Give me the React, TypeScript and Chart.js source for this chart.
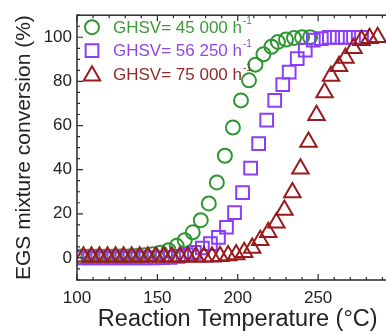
import React, { useEffect, useRef } from "react";
import { Chart, registerables } from "chart.js";

Chart.register(...registerables);

const FONT = "'Liberation Sans', Arial, sans-serif";

// Series data (temperature °C, conversion %)
const circleX = [102, 107, 112, 117, 122, 127, 132, 137, 142, 147, 152, 157, 162, 167, 172, 177, 182, 187, 192, 197, 202, 207, 211, 216, 221, 225, 230, 235, 240, 245];
const circleY = [0.5, 0.5, 0.5, 0.5, 0.5, 0.6, 0.7, 0.9, 1.2, 1.7, 2.4, 3.5, 5.5, 8, 11.6, 17.1, 24.7, 34.2, 46.3, 59.1, 71.4, 80.5, 87.6, 92.3, 95.7, 97.9, 99, 99.7, 100, 100];

const squareX = [103, 108, 113, 118, 123, 128, 133, 138, 143, 148, 153, 158, 163, 168, 173, 178, 183, 188, 193, 198, 203, 208, 213, 218, 223, 228, 232, 237, 242, 247, 252, 257, 262, 267, 272, 277];
const squareY = [0, 0, 0, 0, 0, 0, 0, 0, 0, 0, 0.1, 0.3, 0.7, 1.5, 2.5, 4.5, 6.5, 9.3, 13.9, 20.5, 29.6, 40.7, 51.8, 62.5, 71.4, 78.5, 84.2, 90.3, 94.2, 98.7, 99.4, 100, 100, 100, 100, 100];

const triangleX = [104, 109, 114, 119, 124, 129, 134, 139, 144, 149, 154, 159, 164, 169, 174, 179, 184, 189, 194, 199, 204, 209, 214, 219, 224, 229, 234, 239, 244, 249, 254, 258, 263, 267, 272, 277, 282, 287];
const triangleY = [0.5, 0.5, 0.5, 0.5, 0.5, 0.5, 0.5, 0.5, 0.5, 0.5, 0.5, 0.5, 0.5, 0.5, 0.5, 0.5, 0.5, 0.8, 1.1, 1.6, 2.6, 4.5, 8, 11.6, 16, 21.7, 29.6, 40.4, 52.5, 64.7, 75, 82.4, 86.9, 90.6, 95, 98.7, 99.5, 100];

const seriesLabels = ["GHSV= 45 000 h", "GHSV= 56 250 h", "GHSV= 75 000 h"];
const labelSup = "-1";

const xTicks = [100, 150, 200, 250];
const yTicks = [0, 20, 40, 60, 80, 100];

const X_MIN = 100;
const X_MAX = 300;
const Y_MIN = -10;
const Y_MAX = 110;

const markerColors = ["#2f9632", "#8a3dfa", "#9a1b1b"];
const textColors = ["#3a9a3a", "#9346e8", "#8e2b2b"];

const toPoints = (xs: number[], ys: number[]) => xs.map((x, i) => ({ x, y: ys[i] }));

function drawMarker(ctx: CanvasRenderingContext2D, style: string, x: number, y: number, r: number) {
  ctx.beginPath();
  if (style === "circle") {
    ctx.arc(x, y, r, 0, Math.PI * 2);
  } else if (style === "rect") {
    const s = r * Math.SQRT1_2;
    ctx.rect(x - s, y - s, 2 * s, 2 * s);
  } else {
    for (let k = 0; k < 3; k++) {
      const ang = -Math.PI / 2 + (k * 2 * Math.PI) / 3;
      const px = x + Math.cos(ang) * r;
      const py = y + Math.sin(ang) * r;
      if (k === 0) ctx.moveTo(px, py);
      else ctx.lineTo(px, py);
    }
    ctx.closePath();
  }
  ctx.stroke();
}

const framePlugin = {
  id: "frame",
  afterDatasetsDraw(chart: any) {
    const { ctx, chartArea: a, scales } = chart;
    const xs = scales.x;
    const ys = scales.y;
    ctx.save();
    ctx.strokeStyle = "#2a2a2a";
    ctx.lineWidth = 1.5;
    ctx.strokeRect(a.left, a.top, a.right - a.left, a.bottom - a.top);
    ctx.lineWidth = 1.2;
    ctx.beginPath();
    for (let v = X_MIN; v <= X_MAX; v += 10) {
      const px = xs.getPixelForValue(v);
      const len = v % 50 === 0 ? 6 : 3;
      ctx.moveTo(px, a.bottom);
      ctx.lineTo(px, a.bottom - len);
      ctx.moveTo(px, a.top);
      ctx.lineTo(px, a.top + len);
    }
    for (let v = Y_MIN; v <= Y_MAX; v += 5) {
      const py = ys.getPixelForValue(v);
      const len = v % 20 === 0 ? 6 : 3;
      ctx.moveTo(a.left, py);
      ctx.lineTo(a.left + len, py);
      ctx.moveTo(a.right, py);
      ctx.lineTo(a.right - len, py);
    }
    ctx.stroke();
    ctx.restore();
  },
};

const legendPlugin = {
  id: "insideLegend",
  afterDraw(chart: any) {
    const { ctx, chartArea: a } = chart;
    const styles = ["circle", "rect", "triangle"];
    const radii = [7, 9, 9.5];
    ctx.save();
    chart.data.datasets.forEach((ds: any, i: number) => {
      const cy = a.top + 12 + i * 23.5;
      const mx = a.left + 15;
      ctx.strokeStyle = markerColors[i];
      ctx.lineWidth = 2;
      drawMarker(ctx, styles[i], mx, cy + (i === 2 ? 1.5 : 0), radii[i]);
      ctx.fillStyle = textColors[i];
      ctx.textBaseline = "middle";
      ctx.textAlign = "left";
      ctx.font = `17px ${FONT}`;
      const tx = a.left + 36;
      ctx.fillText(ds.label, tx, cy + 1);
      const w = ctx.measureText(ds.label).width;
      ctx.font = `10px ${FONT}`;
      ctx.fillText(labelSup, tx + w + 1, cy - 6);
    });
    ctx.restore();
  },
};

export default function App() {
  const ref = useRef<HTMLCanvasElement | null>(null);

  useEffect(() => {
    if (!ref.current) return;
    const chart = new Chart(ref.current, {
      type: "scatter",
      data: {
        datasets: [
          {
            label: seriesLabels[0],
            data: toPoints(circleX, circleY),
            pointStyle: "circle",
            pointRadius: 7,
            borderColor: markerColors[0],
            backgroundColor: "rgba(0,0,0,0)",
            borderWidth: 2,
            order: 3,
          },
          {
            label: seriesLabels[1],
            data: toPoints(squareX, squareY),
            pointStyle: "rect",
            pointRadius: 9,
            borderColor: markerColors[1],
            backgroundColor: "rgba(0,0,0,0)",
            borderWidth: 2,
            order: 2,
          },
          {
            label: seriesLabels[2],
            data: toPoints(triangleX, triangleY),
            pointStyle: "triangle",
            pointRadius: 9.5,
            borderColor: markerColors[2],
            backgroundColor: "rgba(0,0,0,0)",
            borderWidth: 2,
            order: 1,
          },
        ],
      },
      options: {
        animation: false,
        responsive: false,
        maintainAspectRatio: false,
        events: [],
        layout: { padding: { top: 11, left: 0, right: 0, bottom: 0 } },
        plugins: {
          legend: { display: false },
          tooltip: { enabled: false },
        },
        scales: {
          x: {
            type: "linear",
            min: X_MIN,
            max: X_MAX,
            afterBuildTicks: (s: any) => {
              s.ticks = xTicks.map((v) => ({ value: v }));
            },
            afterFit: (s: any) => {
              s.height = 54;
            },
            grid: { display: false, drawTicks: false },
            border: { display: false },
            ticks: {
              padding: 8,
              color: "#222",
              font: { family: FONT, size: 17 },
              maxRotation: 0,
              autoSkip: false,
            },
            title: {
              display: true,
              text: "Reaction Temperature (°C)",
              color: "#222",
              font: { family: FONT, size: 23.5, lineHeight: 1.2 },
              padding: { top: 0, bottom: 0 },
            },
          },
          y: {
            type: "linear",
            min: Y_MIN,
            max: Y_MAX,
            afterBuildTicks: (s: any) => {
              s.ticks = yTicks.map((v) => ({ value: v }));
            },
            afterFit: (s: any) => {
              s.width = 77;
            },
            grid: { display: false, drawTicks: false },
            border: { display: false },
            ticks: {
              padding: 5,
              color: "#222",
              font: { family: FONT, size: 17 },
              autoSkip: false,
            },
            title: {
              display: true,
              text: "EGS mixture conversion (%)",
              color: "#222",
              font: { family: FONT, size: 21, lineHeight: 1.2 },
              padding: { top: 12, bottom: 0 },
            },
          },
        },
      },
      plugins: [framePlugin, legendPlugin],
    });
    return () => chart.destroy();
  }, []);

  return (
    <div
      style={{
        position: "fixed",
        left: 0,
        top: 0,
        width: 386,
        height: 334,
        overflow: "hidden",
        background: "#fff",
      }}
    >
      <canvas ref={ref} width={410} height={334} style={{ width: 410, height: 334, display: "block" }} />
    </div>
  );
}
